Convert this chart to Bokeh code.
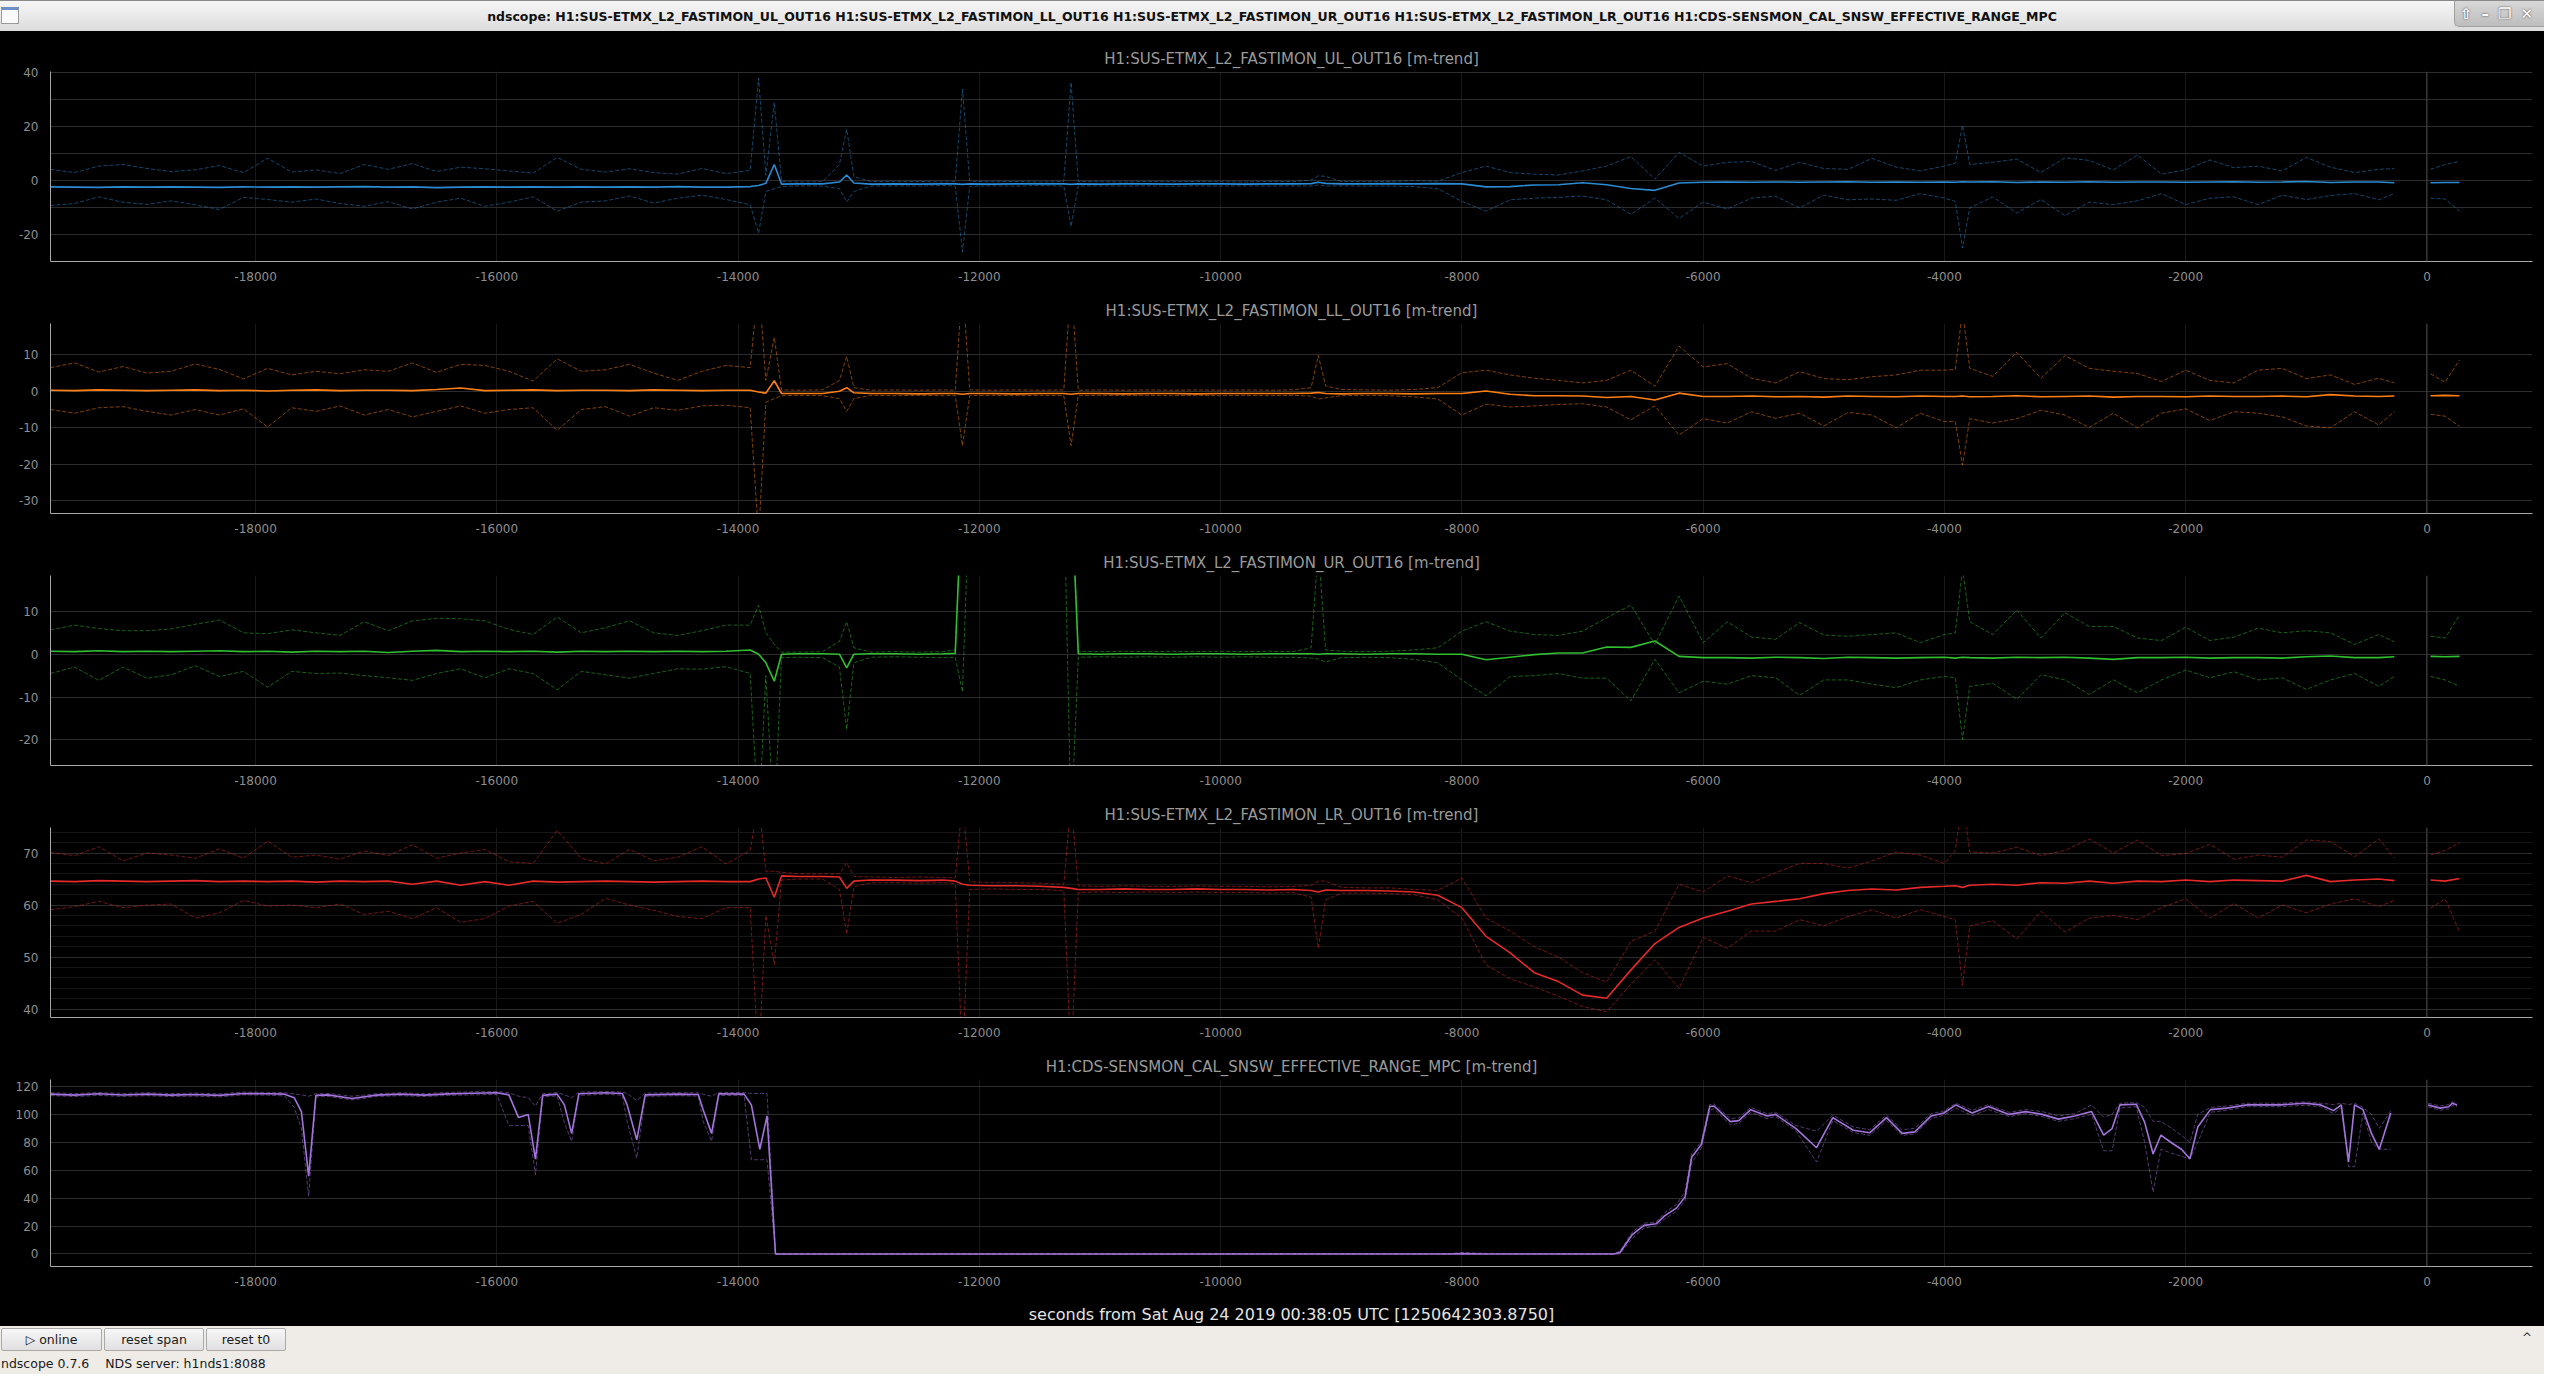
import numpy as np
from bokeh.plotting import figure
from bokeh.layouts import column
from bokeh.models import (Range1d, Span, SingleIntervalTicker, Div, ColumnDataSource,
                          CustomJSTickFormatter)
from bokeh.embed import file_html
from bokeh.resources import INLINE

nan = float("nan")

# shared time axis of the four FASTIMON minute trends (seconds from t0)
t_sus = [
    -19700, -19500, -19300, -19100, -18900, -18700, -18500, -18300, -18100, -17900,
    -17700, -17500, -17300, -17100, -16900, -16700, -16500, -16300, -16100, -15900,
    -15700, -15500, -15300, -15100, -14900, -14700, -14500, -14300, -14100, -13900,
    -13830, -13770, -13700, -13640, -13500, -13300, -13160, -13100, -13040, -12900,
    -12700, -12500, -12300, -12200, -12140, -12080, -11900, -11700, -11500, -11300,
    -11240, -11180, -11000, -10800, -10600, -10400, -10200, -10000, -9800, -9600,
    -9400, -9250, -9190, -9130, -9000, -8800, -8600, -8400, -8200, -8000,
    -7800, -7600, -7400, -7200, -7000, -6800, -6600, -6400, -6200, -6000,
    -5800, -5600, -5400, -5200, -5000, -4800, -4600, -4400, -4200, -4000,
    -3910, -3850, -3790, -3600, -3400, -3200, -3000, -2800, -2600, -2400,
    -2200, -2000, -1800, -1600, -1400, -1200, -1000, -800, -600, -400,
    -270, -100, 30, 150, 270]

ul_mean = [
    -2.3, -2.4, -2.5, -2.3, -2.4, -2.3, -2.4, -2.5, -2.3, -2.4,
    -2.3, -2.4, -2.3, -2.2, -2.4, -2.3, -2.6, -2.4, -2.3, -2.4,
    -2.3, -2.4, -2.3, -2.4, -2.3, -2.4, -2.2, -2.4, -2.4, -2.2,
    -1.8, -1.0, 6.0, -1.3, -1.2, -1.2, -0.5, 2.1, -0.9, -1.3,
    -1.2, -1.3, -1.2, -1.2, -1.4, -1.2, -1.3, -1.2, -1.2, -1.2,
    -1.4, -1.2, -1.3, -1.2, -1.2, -1.3, -1.2, -1.2, -1.3, -1.2,
    -1.2, -1.1, -0.6, -1.0, -1.2, -1.2, -1.1, -1.2, -1.1, -1.2,
    -2.3, -2.2, -1.6, -1.5, -0.8, -1.5, -2.9, -3.6, -0.9, -0.6,
    -0.5, -0.6, -0.5, -0.6, -0.5, -0.4, -0.6, -0.5, -0.6, -0.5,
    -0.6, -0.4, -0.5, -0.4, -0.7, -0.5, -0.6, -0.4, -0.6, -0.5,
    -0.5, -0.6, -0.5, -0.4, -0.6, -0.5, -0.3, -0.7, -0.5, -0.5,
    -0.8, nan, -0.8, -0.7, -0.7]
ul_max = [
    4.2, 3.0, 5.4, 6.0, 4.5, 3.4, 4.0, 5.6, 3.0, 8.3,
    3.2, 4.0, 2.6, 6.0, 4.2, 6.3, 3.4, 5.0, 4.4, 3.6,
    2.8, 8.6, 4.2, 3.2, 4.4, 3.0, 2.4, 4.5, 2.6, 3.8,
    38.0, 2.0, 29.0, -0.3, -0.5, -0.4, 6.0, 19.0, 1.5, -0.3,
    -0.4, -0.3, -0.5, -0.3, 34.0, -0.2, -0.4, -0.3, -0.5, -0.3,
    36.5, -0.3, -0.4, -0.5, -0.3, -0.4, -0.3, -0.4, -0.5, -0.3,
    -0.4, 0.2, 1.8, 1.6, -0.3, -0.4, -0.3, 0.0, -0.2, 3.0,
    5.4, 3.0, 2.4, 2.1, 3.6, 5.4, 8.9, 0.6, 10.5, 5.4,
    6.8, 7.1, 3.8, 6.8, 4.5, 4.2, 8.3, 5.0, 3.6, 5.4,
    6.5, 20.5, 6.0, 6.8, 8.0, 3.0, 8.5, 7.5, 4.0, 9.5,
    2.4, 4.0, 7.7, 4.8, 5.4, 3.6, 8.6, 5.0, 3.0, 4.2,
    4.5, nan, 4.2, 6.0, 7.1]
ul_min = [
    -9.2, -8.5, -6.0, -8.0, -8.8, -7.5, -9.0, -10.7, -6.2, -7.0,
    -8.0, -6.8, -8.5, -9.5, -7.8, -10.5, -8.0, -6.5, -9.5, -8.0,
    -6.0, -11.3, -8.0, -7.5, -5.7, -8.3, -6.5, -5.4, -7.0, -8.9,
    -19.5, -4.0, -3.0, -2.2, -1.9, -2.0, -3.0, -8.0, -4.0, -2.0,
    -1.9, -2.0, -1.8, -2.0, -26.4, -2.1, -1.9, -2.0, -1.8, -2.0,
    -17.0, -2.0, -1.9, -2.0, -1.9, -2.1, -1.9, -2.0, -1.9, -2.0,
    -1.9, -2.0, -1.6, -2.0, -1.9, -2.0, -2.0, -2.2, -3.0, -7.7,
    -11.3, -7.1, -6.5, -6.2, -5.7, -7.1, -12.5, -6.5, -14.0, -8.0,
    -10.5, -6.5, -5.8, -10.1, -5.4, -7.1, -6.8, -7.3, -4.8, -6.5,
    -7.7, -25.0, -10.1, -6.0, -12.0, -7.0, -13.0, -8.0, -8.9, -7.5,
    -4.8, -8.9, -6.5, -6.0, -8.9, -5.4, -7.0, -5.5, -4.8, -7.1,
    -4.8, nan, -6.5, -6.8, -11.3]

ll_mean = [
    0.3, 0.2, 0.4, 0.3, 0.2, 0.3, 0.4, 0.2, 0.3, 0.1,
    0.3, 0.4, 0.2, 0.3, 0.3, 0.2, 0.5, 0.9, 0.2, 0.3,
    0.4, 0.2, 0.3, 0.3, 0.2, 0.4, 0.3, 0.2, 0.3, 0.3,
    -0.2, -0.5, 2.9, -0.6, -0.6, -0.6, 0.0, 1.0, -0.4, -0.6,
    -0.6, -0.7, -0.6, -0.6, -0.8, -0.6, -0.6, -0.7, -0.6, -0.6,
    -0.8, -0.6, -0.6, -0.7, -0.6, -0.6, -0.7, -0.6, -0.6, -0.6,
    -0.6, -0.5, -0.3, -0.6, -0.7, -0.6, -0.6, -0.7, -0.6, -0.6,
    0.1, -0.8, -1.2, -1.2, -1.3, -1.7, -1.4, -2.4, -0.5, -1.4,
    -1.4, -1.3, -1.5, -1.4, -1.6, -1.3, -1.4, -1.5, -1.3, -1.4,
    -1.4, -1.3, -1.5, -1.4, -1.2, -1.5, -1.4, -1.3, -1.6, -1.4,
    -1.4, -1.5, -1.3, -1.4, -1.4, -1.3, -1.5, -0.9, -1.3, -1.4,
    -1.3, nan, -1.2, -1.1, -1.2]
ll_max = [
    6.5, 7.8, 5.3, 6.8, 5.0, 5.5, 7.5, 6.0, 3.4, 6.3,
    4.5, 5.5, 4.8, 5.9, 5.5, 7.8, 5.2, 7.4, 7.1, 5.5,
    2.8, 8.9, 5.5, 5.9, 7.4, 5.0, 3.0, 5.5, 7.1, 6.5,
    30.0, 3.0, 14.8, 0.4, 0.3, 0.4, 3.0, 9.5, 1.0, 0.3,
    0.4, 0.3, 0.4, 0.3, 30.0, 0.4, 0.3, 0.4, 0.3, 0.4,
    30.0, 0.3, 0.4, 0.3, 0.4, 0.3, 0.4, 0.3, 0.4, 0.3,
    0.4, 1.0, 9.8, 1.5, 0.5, 0.4, 0.3, 0.5, 1.0, 5.1,
    5.8, 4.5, 3.6, 3.0, 2.3, 3.0, 5.8, 1.4, 12.4, 6.7,
    7.6, 3.6, 2.3, 5.4, 3.5, 3.2, 4.0, 4.5, 5.8, 5.8,
    6.0, 22.0, 6.3, 4.1, 10.7, 3.6, 9.8, 6.3, 5.5, 4.9,
    2.7, 5.8, 3.0, 2.3, 5.8, 6.3, 3.5, 4.5, 1.9, 3.6,
    2.3, nan, 4.8, 2.5, 8.6]
ll_min = [
    -5.0, -6.0, -4.5, -4.2, -5.5, -6.5, -5.0, -6.5, -4.8, -9.8,
    -4.5, -5.5, -4.0, -6.5, -5.0, -7.0, -5.5, -4.0, -6.0, -5.0,
    -4.5, -10.7, -5.0, -4.2, -6.8, -4.5, -5.2, -4.0, -3.8, -4.5,
    -40.0, -3.0, -2.0, -1.2, -1.1, -1.2, -2.0, -5.5, -2.0, -1.1,
    -1.2, -1.1, -1.2, -1.1, -14.9, -1.2, -1.1, -1.2, -1.1, -1.2,
    -14.9, -1.2, -1.1, -1.2, -1.1, -1.2, -1.1, -1.2, -1.1, -1.2,
    -1.1, -1.3, -2.1, -1.8, -1.2, -1.1, -1.2, -1.5, -2.1, -6.5,
    -3.5, -4.3, -4.0, -3.6, -3.4, -4.3, -7.8, -4.0, -12.0, -7.5,
    -8.7, -5.6, -7.4, -6.0, -9.5, -5.8, -6.5, -10.0, -6.0, -8.3,
    -8.3, -20.2, -7.5, -8.7, -7.5, -5.2, -6.5, -9.9, -6.0, -10.0,
    -6.0, -4.8, -8.0, -5.6, -6.0, -7.0, -9.5, -10.0, -5.6, -9.2,
    -5.6, nan, -6.3, -6.8, -9.6]

ur_mean = [
    0.7, 0.6, 0.8, 0.6, 0.7, 0.6, 0.7, 0.8, 0.6, 0.7,
    0.5, 0.7, 0.6, 0.7, 0.4, 0.7, 0.9, 0.6, 0.7, 0.6,
    0.7, 0.5, 0.7, 0.6, 0.7, 0.6, 0.7, 0.6, 0.7, 1.0,
    0.0, -2.0, -6.3, 0.0, 0.1, 0.1, 0.0, -3.2, 0.0, 0.1,
    0.1, 0.0, 0.1, 0.2, 40.0, 40.0, 40.0, 40.0, 40.0, 40.0,
    40.0, 0.1, 0.0, 0.1, 0.1, 0.0, 0.1, 0.1, 0.0, 0.1,
    0.1, 0.1, 0.0, 0.1, 0.1, 0.0, 0.1, 0.1, 0.0, 0.0,
    -1.3, -0.7, -0.1, 0.3, 0.3, 1.7, 1.6, 3.1, -0.5, -0.8,
    -0.8, -0.9, -0.7, -0.8, -1.0, -0.7, -0.8, -0.9, -0.8, -0.7,
    -0.9, -0.7, -0.8, -0.9, -0.7, -0.8, -0.7, -0.9, -1.2, -0.8,
    -0.8, -0.7, -0.9, -0.8, -0.8, -0.9, -0.6, -0.4, -0.8, -0.8,
    -0.6, nan, -0.5, -0.6, -0.5]
ur_max = [
    5.7, 6.8, 6.0, 5.5, 5.5, 5.9, 7.0, 8.0, 5.0, 4.8,
    5.7, 5.0, 4.4, 7.6, 5.5, 7.8, 8.4, 8.3, 7.8, 5.8,
    4.6, 8.7, 5.0, 6.2, 7.8, 5.0, 4.4, 5.5, 6.8, 6.8,
    11.4, 5.0, 2.3, 0.5, 0.5, 0.6, 3.0, 7.6, 1.5, 0.5,
    0.6, 0.5, 0.6, 1.0, 40.0, 40.0, 40.0, 40.0, 40.0, 40.0,
    40.0, 0.7, 0.6, 0.7, 0.6, 0.7, 0.6, 0.7, 0.6, 0.7,
    0.6, 1.5, 25.0, 1.0, 0.7, 0.6, 0.7, 1.0, 1.5, 5.4,
    7.6, 5.4, 4.6, 4.4, 5.4, 8.5, 11.5, 2.3, 13.6, 2.7,
    7.6, 4.0, 3.5, 7.4, 4.5, 4.2, 4.6, 5.0, 2.7, 4.6,
    5.0, 20.0, 7.6, 4.6, 10.3, 3.8, 9.7, 6.5, 6.5, 3.8,
    3.2, 6.3, 3.2, 4.0, 6.1, 5.0, 5.5, 5.0, 2.3, 4.6,
    2.9, nan, 4.2, 3.8, 9.1]
ur_min = [
    -4.5, -3.0, -6.1, -3.0, -5.6, -4.8, -2.7, -5.2, -4.0, -7.7,
    -4.0, -4.5, -4.4, -5.0, -5.5, -6.1, -4.5, -3.4, -5.5, -3.4,
    -4.5, -8.3, -4.0, -4.8, -5.6, -4.5, -3.4, -3.5, -2.9, -4.5,
    -40.0, -5.0, -40.0, -0.8, -0.7, -0.8, -3.0, -17.6, -2.0, -0.7,
    -0.6, -0.7, -0.8, -0.7, -8.8, 40.0, 40.0, 40.0, 40.0, 40.0,
    -40.0, -0.7, -0.6, -0.7, -0.6, -0.7, -0.6, -0.7, -0.6, -0.7,
    -0.7, -0.9, -1.1, -1.8, -0.8, -0.7, -0.8, -1.2, -2.0, -6.0,
    -9.7, -5.2, -5.0, -4.5, -5.6, -5.6, -10.9, -1.2, -9.0, -6.3,
    -7.0, -5.0, -5.5, -9.6, -6.0, -6.0, -7.0, -7.8, -6.0, -5.2,
    -5.5, -19.9, -7.5, -6.8, -10.5, -4.8, -6.0, -9.4, -6.0, -9.0,
    -6.0, -3.7, -5.5, -4.1, -6.0, -5.5, -8.2, -6.0, -4.5, -7.5,
    -5.2, nan, -5.2, -6.0, -7.5]

lr_mean = [
    64.6, 64.5, 64.7, 64.6, 64.5, 64.6, 64.7, 64.5, 64.6, 64.5,
    64.6, 64.4, 64.6, 64.5, 64.6, 64.0, 64.6, 63.8, 64.5, 63.8,
    64.6, 64.4, 64.5, 64.6, 64.5, 64.4, 64.5, 64.6, 64.5, 64.5,
    65.0, 65.2, 61.5, 65.6, 65.5, 65.5, 65.4, 63.2, 64.6, 64.8,
    64.8, 64.7, 64.8, 64.6, 64.0, 63.8, 63.7, 63.7, 63.6, 63.4,
    63.2, 63.0, 63.0, 63.1, 63.0, 63.0, 63.1, 63.0, 63.0, 62.9,
    63.0, 62.8, 62.5, 62.9, 62.8, 62.8, 62.7, 62.5, 61.9, 59.5,
    54.0, 50.8, 47.0, 45.3, 42.7, 42.1, 47.5, 52.6, 55.7, 57.5,
    58.8, 60.2, 60.7, 61.2, 62.2, 62.8, 63.1, 62.9, 63.4, 63.6,
    63.7, 63.4, 63.8, 64.0, 63.8, 64.3, 64.2, 64.6, 64.2, 64.6,
    64.5, 64.8, 64.5, 64.8, 64.7, 64.6, 65.7, 64.5, 64.8, 65.0,
    64.7, nan, 64.8, 64.6, 65.1]
lr_max = [
    70.1, 69.5, 71.2, 68.5, 70.0, 69.6, 69.0, 70.8, 69.0, 72.3,
    69.2, 69.6, 68.8, 70.4, 69.5, 71.6, 69.0, 70.0, 70.7, 68.3,
    68.0, 74.3, 69.0, 67.9, 70.7, 68.5, 69.2, 71.2, 67.9, 70.5,
    80.0, 66.5, 66.5, 66.3, 66.0, 66.0, 66.0, 68.1, 65.5, 65.4,
    65.3, 65.4, 65.3, 65.2, 80.0, 64.5, 64.3, 64.3, 64.2, 64.0,
    80.0, 63.7, 63.6, 63.7, 63.6, 63.6, 63.7, 63.6, 63.6, 63.5,
    63.6, 63.8, 64.6, 64.6, 63.4, 63.3, 63.3, 63.0, 62.8, 65.2,
    57.5, 55.0, 52.0, 50.0, 47.0, 45.2, 53.0, 55.0, 64.0, 62.5,
    65.6, 64.3, 66.2, 68.0, 68.0, 67.1, 68.5, 70.2, 69.6, 68.0,
    70.5, 80.0, 70.2, 70.0, 71.1, 69.5, 70.5, 72.7, 70.0, 72.5,
    69.5, 69.9, 71.7, 68.8, 69.6, 69.2, 72.5, 72.2, 69.3, 72.7,
    69.0, nan, 69.6, 70.5, 72.0]
lr_min = [
    59.1, 59.7, 60.7, 59.5, 60.0, 60.2, 57.5, 58.5, 60.9, 59.8,
    60.0, 59.5, 60.2, 58.2, 58.8, 57.4, 59.5, 56.7, 57.4, 59.8,
    60.7, 56.5, 58.2, 61.3, 60.0, 59.0, 57.8, 57.4, 59.5, 59.5,
    30.0, 58.0, 48.6, 64.8, 65.0, 65.0, 63.0, 54.4, 63.5, 64.3,
    64.3, 64.2, 64.3, 64.1, 30.0, 63.0, 63.1, 63.0, 63.0, 62.8,
    30.0, 62.4, 62.5, 62.4, 62.5, 62.4, 62.5, 62.4, 62.4, 62.3,
    62.4, 61.5, 51.7, 61.0, 62.3, 62.3, 62.2, 62.0, 61.0, 57.5,
    48.5, 45.8, 44.3, 42.5, 40.5, 39.5, 44.8, 49.5, 44.0, 53.8,
    51.7, 55.0, 55.0, 57.2, 56.0, 57.8, 59.1, 57.5, 59.1, 57.8,
    57.2, 44.6, 56.0, 57.0, 53.5, 58.8, 54.8, 57.5, 58.0, 57.2,
    59.5, 61.2, 57.5, 60.3, 57.5, 60.0, 58.5, 60.2, 61.2, 59.7,
    60.9, nan, 59.4, 61.2, 54.8]

# BNS range channel has its own (irregular) sample times
t_rng = [
    -19700, -19500, -19300, -19100, -18900, -18700, -18500, -18300, -18100, -17900,
    -17760, -17680, -17620, -17560, -17500, -17400, -17200, -17000, -16800, -16600,
    -16400, -16200, -16000, -15900, -15820, -15740, -15680, -15620, -15500, -15440,
    -15380, -15320, -15100, -14960, -14920, -14840, -14770, -14500, -14330, -14290,
    -14220, -14160, -13950, -13890, -13820, -13760, -13690, -12000, -10000, -8100,
    -8000, -7800, -7000, -6740, -6690, -6590, -6490, -6390, -6320, -6220,
    -6150, -6095, -6015, -5945, -5910, -5775, -5705, -5605, -5470, -5400,
    -5230, -5060, -4925, -4755, -4620, -4480, -4350, -4245, -4110, -4005,
    -3905, -3770, -3635, -3465, -3325, -3190, -3055, -2920, -2780, -2680,
    -2610, -2545, -2410, -2340, -2270, -2205, -2115, -2035, -1965, -1900,
    -1795, -1660, -1490, -1220, -1015, -880, -775, -710, -650, -600,
    -530, -460, -395, -300, -100, 10, 110, 180, 210, 250]
rng_mean = [
    114.5, 113.8, 114.8, 113.9, 114.5, 113.8, 114.2, 113.6, 115.0, 114.8,
    114.5, 112.0, 102.0, 55.7, 113.6, 114.0, 111.4, 113.8, 114.5, 113.8,
    114.7, 115.2, 115.5, 114.0, 97.7, 100.0, 68.0, 113.6, 114.5, 106.8,
    86.4, 114.8, 115.5, 115.0, 106.8, 81.8, 114.0, 114.5, 114.3, 103.4,
    86.4, 114.8, 114.5, 106.8, 75.0, 98.9, 0.0, 0.0, 0.0, 0.0,
    0.2, 0.0, 0.0, 0.0, 1.0, 13.6, 20.5, 21.6, 27.3, 33.0,
    40.9, 69.3, 78.4, 105.7, 106.0, 94.8, 95.5, 103.4, 98.9, 100.0,
    89.8, 76.1, 97.7, 88.6, 86.8, 97.7, 86.4, 87.5, 98.9, 101.0,
    106.8, 101.0, 105.7, 100.0, 102.0, 100.0, 96.6, 98.9, 102.0, 85.2,
    89.8, 106.8, 107.3, 94.3, 71.6, 85.2, 79.5, 75.0, 68.2, 90.9,
    103.4, 104.5, 106.8, 106.8, 108.0, 106.8, 102.7, 106.8, 65.9, 106.8,
    103.4, 86.4, 75.0, 101.0, nan, 106.8, 104.5, 105.5, 108.0, 106.8]
rng_min = [
    113.5, 112.8, 113.6, 112.9, 113.4, 112.8, 113.1, 112.5, 114.0, 113.8,
    113.2, 105.0, 90.0, 41.4, 112.5, 112.9, 110.3, 112.8, 113.4, 112.8,
    113.6, 114.0, 114.3, 92.0, 92.0, 92.0, 56.8, 112.5, 113.3, 94.0,
    80.7, 113.6, 114.4, 113.8, 95.0, 68.6, 112.9, 113.4, 113.1, 95.0,
    80.7, 113.6, 113.4, 67.5, 67.5, 67.5, 0.0, 0.0, 0.0, 0.0,
    0.0, 0.0, 0.0, 0.0, 0.0, 11.0, 18.5, 20.0, 25.0, 30.5,
    38.0, 65.0, 76.0, 103.0, 104.0, 92.5, 93.5, 101.5, 97.0, 98.5,
    88.0, 65.9, 95.5, 87.0, 85.0, 95.5, 85.0, 86.0, 97.0, 99.5,
    104.5, 99.0, 103.5, 98.5, 100.5, 98.5, 95.0, 97.0, 100.0, 73.9,
    73.9, 104.5, 105.5, 80.0, 44.3, 75.0, 72.0, 70.0, 68.0, 80.0,
    101.5, 103.0, 105.5, 105.5, 106.5, 105.5, 100.5, 105.0, 62.5, 62.5,
    101.0, 80.0, 75.0, 75.0, nan, 105.5, 103.0, 104.0, 106.5, 105.5]
rng_max = [
    115.6, 114.9, 115.7, 115.0, 115.6, 114.9, 115.3, 114.7, 116.0, 115.8,
    115.6, 114.6, 114.0, 113.0, 114.8, 115.0, 113.0, 114.8, 115.5, 114.9,
    115.8, 116.2, 116.4, 115.6, 113.0, 112.0, 106.0, 114.8, 115.6, 114.0,
    112.0, 116.0, 116.4, 116.0, 115.0, 110.0, 115.2, 115.6, 115.4, 114.5,
    113.0, 115.8, 115.6, 115.0, 115.0, 115.0, 0.0, 0.0, 0.0, 0.2,
    1.0, 0.4, 0.0, 0.3, 2.0, 15.5, 22.0, 23.0, 29.5, 35.5,
    45.0, 72.0, 80.5, 107.0, 107.5, 97.0, 97.5, 105.0, 100.5, 101.5,
    92.0, 88.0, 99.5, 91.0, 89.0, 99.5, 89.0, 90.0, 100.5, 102.5,
    108.0, 103.0, 107.0, 101.5, 103.5, 102.0, 99.0, 100.5, 106.8, 98.0,
    100.0, 108.0, 108.5, 105.0, 95.0, 95.0, 90.0, 85.0, 80.0, 100.0,
    105.0, 106.0, 108.0, 108.0, 109.0, 108.0, 107.0, 108.0, 107.0, 108.0,
    105.0, 100.0, 90.0, 102.5, nan, 108.0, 106.0, 107.0, 109.0, 108.0]

W = 2544
FONT = "DejaVu Sans"
XMIN, XMAX = -19700, 875

# plain hyphen minus, as in the original tick labels
plain = CustomJSTickFormatter(code="return String(tick);")


def make_panel(title, t, mean, lo, hi, color, ylo, yhi, step, nminor,
               minor_color, height, bottom, xlabel=None):
    p = figure(width=W, height=height, x_range=Range1d(XMIN, XMAX),
               y_range=Range1d(ylo, yhi), output_backend="svg",
               toolbar_location=None, background_fill_color="black",
               border_fill_color="black", outline_line_color=None,
               min_border_left=50, min_border_right=12,
               min_border_top=40, min_border_bottom=bottom)
    p.title.text = title
    p.title.align = "center"
    p.title.text_color = "#9a9a9a"
    p.title.text_font = FONT
    p.title.text_font_size = "15px"
    p.title.text_font_style = "normal"
    p.title.standoff = 8

    yt = SingleIntervalTicker(interval=step, num_minor_ticks=nminor)
    p.yaxis.ticker = yt
    p.ygrid.ticker = yt
    p.xaxis.ticker = SingleIntervalTicker(interval=2000)
    for ax in (p.xaxis[0], p.yaxis[0]):
        ax.formatter = plain
        ax.axis_line_color = "#a8a8a8"
        ax.major_tick_line_color = None
        ax.minor_tick_line_color = None
        ax.major_label_text_color = "#8e8e8e"
        ax.major_label_text_font = FONT
        ax.major_label_text_font_size = "12px"
    p.xaxis.major_label_standoff = 4
    p.yaxis.major_label_standoff = 6
    p.xgrid.grid_line_color = "#181818"
    p.ygrid.grid_line_color = "#2c2c2c"
    p.ygrid.minor_grid_line_color = minor_color

    if xlabel:
        p.xaxis.axis_label = xlabel
        p.xaxis.axis_label_text_color = "#e4e4e4"
        p.xaxis.axis_label_text_font = FONT
        p.xaxis.axis_label_text_font_size = "16px"
        p.xaxis.axis_label_text_font_style = "normal"
        p.xaxis.axis_label_standoff = 16

    p.add_layout(Span(location=0, dimension="height", line_color="#4a4a4a",
                      line_width=1))
    src = ColumnDataSource(dict(t=np.array(t, float), m=np.array(mean, float),
                                lo=np.array(lo, float), hi=np.array(hi, float)))
    for col in ("hi", "lo"):
        p.line("t", col, source=src, line_color=color, line_alpha=0.5,
               line_width=1, line_dash="4 2")
    p.line("t", "m", source=src, line_color=color, line_width=1.6)
    return p


p1 = make_panel("H1:SUS-ETMX_L2_FASTIMON_UL_OUT16 [m-trend]", t_sus, ul_mean,
                ul_min, ul_max, "#2a8ad2", -30, 40.5, 20, 2, "#2c2c2c", 252, 20)
p2 = make_panel("H1:SUS-ETMX_L2_FASTIMON_LL_OUT16 [m-trend]", t_sus, ll_mean,
                ll_min, ll_max, "#ff7f12", -33.5, 18.6, 10, 0, None, 252, 20)
p3 = make_panel("H1:SUS-ETMX_L2_FASTIMON_UR_OUT16 [m-trend]", t_sus, ur_mean,
                ur_min, ur_max, "#2fbf2f", -26, 18.4, 10, 0, None, 252, 20)
p4 = make_panel("H1:SUS-ETMX_L2_FASTIMON_LR_OUT16 [m-trend]", t_sus, lr_mean,
                lr_min, lr_max, "#e62a2a", 38.4, 74.9, 10, 5, "#161616", 252, 20)
p5 = make_panel("H1:CDS-SENSMON_CAL_SNSW_EFFECTIVE_RANGE_MPC [m-trend]", t_rng,
                rng_mean, rng_min, rng_max, "#a274dc", -9, 125, 20, 0, None,
                287, 55,
                xlabel="seconds from Sat Aug 24 2019 00:38:05 UTC [1250642303.8750]")

win_title = ("ndscope: H1:SUS-ETMX_L2_FASTIMON_UL_OUT16 H1:SUS-ETMX_L2_FASTIMON_LL_OUT16 "
             "H1:SUS-ETMX_L2_FASTIMON_UR_OUT16 H1:SUS-ETMX_L2_FASTIMON_LR_OUT16 "
             "H1:CDS-SENSMON_CAL_SNSW_EFFECTIVE_RANGE_MPC")

top = Div(width=W, height=31, margin=(0, 0, 0, 0), text=f"""
<div style="position:relative;width:{W}px;height:31px;box-sizing:border-box;
 border-top:1px solid #8a8a8a;background:linear-gradient(#f6f6f6,#dcdcdc);
 font-family:'DejaVu Sans';overflow:hidden;">
 <div style="position:absolute;left:1px;top:6px;width:18px;height:17px;
  background:#fafafa;border:1px solid #9a9a9a;border-top:3px solid #6d8fc4;"></div>
 <div style="position:absolute;left:0;width:{W}px;top:7px;text-align:center;
  font-weight:bold;font-size:12.5px;color:#101010;white-space:nowrap;">{win_title}</div>
 <div style="position:absolute;right:0;top:0;width:90px;height:26px;
  background:linear-gradient(#d8d8d8,#bdbdbd);border-left:1px solid #a0a0a0;
  border-bottom:1px solid #a0a0a0;border-bottom-left-radius:5px;
  font-size:15px;font-weight:bold;color:#fff;text-shadow:0 0 2px #333;
  letter-spacing:9px;text-align:right;line-height:26px;padding-right:2px;
  box-sizing:border-box;">&#8679;&#8211;&#10064;&#10005;</div>
</div>""")

btn = ("position:absolute;top:2px;height:23px;box-sizing:border-box;"
       "border:1px solid #a9a9a9;border-radius:2px;"
       "background:linear-gradient(#f7f7f7,#e0e0e0);text-align:center;"
       "line-height:21px;font-size:12.5px;color:#1a1a1a;")
bottom = Div(width=W, height=48, margin=(0, 0, 0, 0), text=f"""
<div style="position:relative;width:{W}px;height:48px;background:#efece8;
 font-family:'DejaVu Sans';overflow:hidden;">
 <div style="{btn}left:1px;width:101px;">&#9655; online</div>
 <div style="{btn}left:104px;width:100px;">reset span</div>
 <div style="{btn}left:206px;width:80px;">reset t0</div>
 <div style="position:absolute;left:1px;top:29px;font-size:12.5px;color:#1a1a1a;
  white-space:nowrap;">ndscope 0.7.6&nbsp;&nbsp;&nbsp; NDS server: h1nds1:8088</div>
 <div style="position:absolute;right:12px;top:4px;font-size:12px;color:#333;">^</div>
</div>""")

layout = column(top, p1, p2, p3, p4, p5, bottom, spacing=0,
                styles={"background-color": "black"})

open("out.html", "w").write(file_html(layout, INLINE))
